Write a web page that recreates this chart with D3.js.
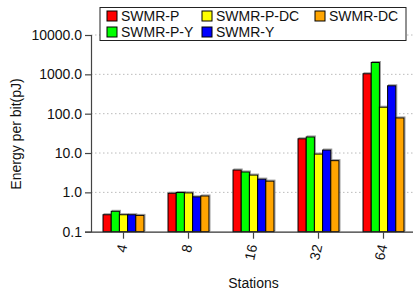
<!DOCTYPE html>
<html><head><meta charset="utf-8">
<script src="https://cdn.jsdelivr.net/npm/d3@7"></script>
<style>
body{margin:0;background:#fff;}
svg{display:block;font-family:"Liberation Sans",Arial,sans-serif;}
</style></head>
<body>
<svg id="c" width="413" height="295"></svg>
<script>
const categories = ["4","8","16","32","64"];
const seriesNames = ["SWMR-P","SWMR-P-Y","SWMR-P-DC","SWMR-Y","SWMR-DC"];
const seriesColors = ["#ff0000","#00ff00","#ffff00","#0000ff","#ffa500"];
const swmrP   = [0.27, 0.95, 3.7, 23,   1035];
const swmrPY  = [0.33, 0.99, 3.3, 25.6, 2000];
const swmrPDC = [0.27, 0.97, 2.75, 9.4, 146];
const swmrY   = [0.27, 0.77, 2.17, 11.9, 512];
const swmrDC  = [0.26, 0.81, 1.93, 6.4, 78];
const yTicks = [0.1, 1, 10, 100, 1000, 10000];

const seriesValues = [swmrP, swmrPY, swmrPDC, swmrY, swmrDC];

const svg = d3.select("#c");
const L = 91, R = 416, T = 35, B = 231.7;

const x0 = d3.scaleBand().domain(categories).range([L, R]).paddingInner(0.37).paddingOuter(0.185);
const x1 = d3.scaleBand().domain(seriesNames).range([0, x0.bandwidth()]);
const y = d3.scaleLog().domain([0.1, 10000]).range([B, T]);

// gridlines
svg.append("g").selectAll("line").data(yTicks.slice(1)).join("line")
  .attr("x1", L).attr("x2", 413)
  .attr("y1", d => y(d)).attr("y2", d => y(d))
  .attr("stroke", "#bbb").attr("stroke-width", 1).attr("stroke-dasharray", "1.5,2.5");

// bars
const groups = svg.append("g").selectAll("g").data(categories).join("g")
  .attr("transform", d => `translate(${x0(d)},0)`);
groups.each(function(cat, ci) {
  const g = d3.select(this);
  const data = seriesNames.map((s, si) => ({s, si, v: seriesValues[si][ci]}));
  g.selectAll("rect.sh").data(data).join("rect").attr("class", "sh")
    .attr("x", d => x1(d.s) + 1).attr("y", d => y(d.v) - 1)
    .attr("width", x1.bandwidth()).attr("height", d => B - y(d.v))
    .attr("fill", "none").attr("stroke", "#999").attr("stroke-width", 1);
  g.selectAll("rect.b").data(data).join("rect").attr("class", "b")
    .attr("x", d => x1(d.s)).attr("y", d => y(d.v))
    .attr("width", x1.bandwidth()).attr("height", d => B - y(d.v))
    .attr("fill", d => seriesColors[d.si]).attr("stroke", "#000").attr("stroke-width", 1);
});

// y axis
const yAxis = d3.axisLeft(y).tickValues(yTicks).tickFormat(d3.format(".1f")).tickSize(6).tickPadding(3);
const ya = svg.append("g").attr("transform", `translate(${L},0)`).call(yAxis);
ya.select(".domain").attr("stroke", "#444").attr("stroke-width", 1.2);
ya.selectAll(".tick line").attr("stroke", "#444").attr("stroke-width", 1.2);
ya.selectAll(".tick text").attr("font-size", 14).attr("fill", "#111")
  .attr("font-family", "Liberation Sans, Arial, sans-serif");

// x axis
const xAxis = d3.axisBottom(x0).tickSize(7).tickSizeOuter(0);
const xa = svg.append("g").attr("transform", `translate(0,${B})`).call(xAxis);
xa.select(".domain").attr("stroke", "#333").attr("stroke-width", 1.3);
xa.selectAll(".tick line").attr("stroke", "#444").attr("stroke-width", 1.2);
xa.selectAll(".tick text").attr("font-size", 14).attr("fill", "#111")
  .attr("font-family", "Liberation Sans, Arial, sans-serif")
  .attr("text-anchor", "end").attr("y", 0).attr("dy", "0.35em")
  .attr("transform", "translate(-1,13) rotate(-78)");

// axis titles
svg.append("text").attr("x", (L + R) / 2).attr("y", 288).attr("text-anchor", "middle")
  .attr("font-size", 14).attr("fill", "#111").text("Stations");
svg.append("text").attr("transform", `translate(21,134) rotate(-90)`).attr("text-anchor", "middle")
  .attr("font-size", 14).attr("fill", "#111").text("Energy per bit(pJ)");

// legend
const lg = svg.append("g");
lg.append("rect").attr("x", 100).attr("y", 7.5).attr("width", 306).attr("height", 33)
  .attr("fill", "#fff").attr("stroke", "#222").attr("stroke-width", 1);
const colX = [107, 202, 315];
const rowY = [16, 32];
seriesNames.forEach((s, i) => {
  const col = Math.floor(i / 2), row = i % 2;
  const gx = colX[col], gy = rowY[row];
  lg.append("rect").attr("x", gx).attr("y", gy - 5).attr("width", 10).attr("height", 10)
    .attr("fill", seriesColors[i]).attr("stroke", "#000").attr("stroke-width", 1);
  lg.append("text").attr("x", gx + 14).attr("y", gy).attr("dy", "0.35em")
    .attr("font-size", 14).attr("fill", "#111").text(s);
});
</script>
</body></html>
